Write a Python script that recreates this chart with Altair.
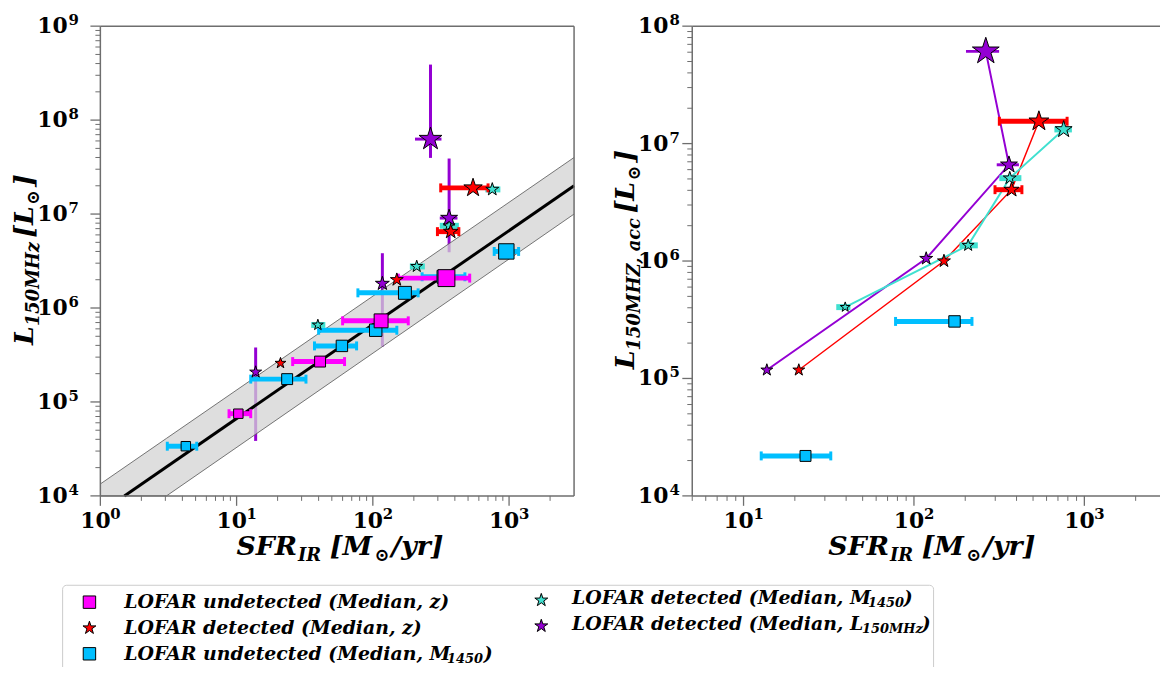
import altair as alt
import pandas as pd

# ================= DATA =================
# ---- left panel: L_150MHz vs SFR_IR ----
mag_sfr = [10.3, 41.0, 115.0, 347.0]
mag_sfr_lo = [8.8, 25.8, 60.0, 154.0]
mag_sfr_hi = [12.7, 62.0, 182.0, 514.0]
mag_L = [7.5e4, 2.69e5, 7.3e5, 2.08e6]

cyan_sfr = [4.24, 23.5, 59.3, 105.0, 172.0, 330.0, 955.0]
cyan_sfr_lo = [3.1, 12.7, 37.3, 40.0, 77.7, 230.0, 778.0]
cyan_sfr_hi = [5.1, 32.3, 76.0, 150.0, 215.0, 474.0, 1175.0]
cyan_L = [3.38e4, 1.75e5, 3.95e5, 5.8e5, 1.45e6, 2.15e6, 4.0e6]

red_sfr = [21.0, 150.0, 373.0, 544.0]
red_sfr_lo = [21.0, 150.0, 298.0, 315.0]
red_sfr_hi = [21.0, 150.0, 428.0, 701.0]
red_L = [2.59e5, 2.0e6, 6.5e6, 1.9e7]

turq_sfr = [39.5, 210.0, 363.0, 753.0]
turq_sfr_lo = [35.3, 187.0, 310.0, 670.0]
turq_sfr_hi = [44.8, 241.0, 428.0, 863.0]
turq_L = [6.6e5, 2.77e6, 7.5e6, 1.83e7]

purp_sfr = [13.8, 117.5, 363.0, 265.0]
purp_sfr_lo = [13.8, 117.5, 310.0, 204.0]
purp_sfr_hi = [13.8, 117.5, 418.0, 319.0]
purp_L = [2.08e5, 1.82e6, 9.06e6, 6.28e7]
purp_L_lo = [3.85e4, 3.9e5, 3.92e6, 3.96e7]
purp_L_hi = [3.8e5, 3.83e6, 3.9e7, 3.9e8]

rel_sfr = [1.5, 3000.0]
rel_L = [1.0e4, 2.0e7]
band_sfr = [1.0, 3.06, 3000.0]
band_hi = [1.34e4, 4.1e4, 4.0e7]
band_lo = [3.35e3, 1.0e4, 1.0e7]

# ---- right panel: L_150MHZ,acc vs SFR_IR ----
r_red_sfr = [21.1, 150.0, 374.0, 541.0]
r_red_sfr_lo = [21.1, 150.0, 299.0, 317.0]
r_red_sfr_hi = [21.1, 150.0, 430.0, 792.0]
r_red_L = [1.18e5, 1.0e6, 4.05e6, 1.55e7]

r_turq_sfr = [39.5, 208.0, 365.0, 756.0]
r_turq_sfr_lo = [35.0, 185.0, 317.0, 667.0]
r_turq_sfr_hi = [42.4, 237.0, 427.0, 845.0]
r_turq_L = [4.05e5, 1.36e6, 5.08e6, 1.32e7]

r_purp_sfr = [13.7, 118.0, 361.0, 264.0]
r_purp_sfr_lo = [13.7, 118.0, 306.0, 202.0]
r_purp_sfr_hi = [13.7, 118.0, 413.0, 316.0]
r_purp_L = [1.18e5, 1.05e6, 6.6e6, 6.1e7]

r_cyan_sfr = [23.1, 173.0]
r_cyan_sfr_lo = [12.7, 78.0]
r_cyan_sfr_hi = [32.5, 219.0]
r_cyan_L = [2.19e4, 3.06e5]

# tick values / labels
xl_major = [1, 10, 100, 1000]
xl_exp = ["0", "1", "2", "3"]
yl_major = [1e4, 1e5, 1e6, 1e7, 1e8, 1e9]
yl_exp = ["4", "5", "6", "7", "8", "9"]
xr_major = [10, 100, 1000]
xr_exp = ["1", "2", "3"]
yr_major = [1e4, 1e5, 1e6, 1e7, 1e8]
yr_exp = ["4", "5", "6", "7", "8"]
xl_minor = [m * 10 ** k for k in range(0, 4) for m in range(2, 10) if m * 10 ** k < 3000]
yl_minor = [m * 10.0 ** k for k in range(4, 9) for m in range(2, 10)]
xr_minor = [m * 10 ** k for k in range(0, 4) for m in range(2, 10) if 5 <= m * 10 ** k < 3000]
yr_minor = [m * 10.0 ** k for k in range(4, 8) for m in range(2, 10)]

# ================= STYLE =================
# marker widths in px (style, kept apart from the data)
mag_ms = [9.5, 11, 14, 17]
cyan_ms = [9.5, 11, 11.5, 12.5, 13, 13, 15.5]
red_ms = [11, 13, 14.5, 18.5]
turq_ms = [11, 12, 12, 13]
purp_ms = [12, 14, 17, 23]
r_red_ms = [12, 13, 15, 20]
r_turq_ms = [10, 12, 13, 17]
r_purp_ms = [12, 13, 17, 27]
r_cyan_ms = [11, 11.5]

MAG, CYAN, RED, TURQ, PURP = "#ff00ff", "#00bfff", "#ff0000", "#40e0d0", "#9400d3"
STAR = ("M0,-1L0.2245,-0.309L0.9511,-0.309L0.3633,0.118L0.5878,0.809L0,0.382"
        "L-0.5878,0.809L-0.3633,0.118L-0.9511,-0.309L-0.2245,-0.309Z")
SERIF = "DejaVu Serif"
FRAME = "#6e6e6e"

XL = alt.Scale(type="log", domain=[1, 3000], range=[93, 570], nice=False, clamp=True)
YL = alt.Scale(type="log", domain=[1e4, 1e9], range=[489, 16], nice=False, clamp=True)
XR = alt.Scale(type="log", domain=[5, 3000], range=[689, 1165.7], nice=False)
YR = alt.Scale(type="log", domain=[1e4, 1e8], range=[489, 16], nice=False)

one = pd.DataFrame({"a": [0]})


def X(f, s):
    return alt.X(f"{f}:Q", scale=s, axis=None)


def Y(f, s):
    return alt.Y(f"{f}:Q", scale=s, axis=None)


def series(sfr, lo, hi, L, ms, star):
    area = [(w / 0.951) ** 2 if star else w ** 2 for w in ms]
    return pd.DataFrame({"sfr": sfr, "lo": lo, "hi": hi, "L": L, "area": area,
                         "i": list(range(len(sfr)))})


def xbars(d, color, xs, ys, w=5, caps=True):
    base = alt.Chart(d).transform_filter("datum.lo < datum.hi")
    out = [base.mark_rule(color=color, strokeWidth=w).encode(
        x=X("lo", xs), x2=alt.X2("hi"), y=Y("L", ys))]
    if caps:
        out.append(base.transform_fold(["lo", "hi"], as_=["k", "v"]).mark_tick(
            orient="vertical", color=color, thickness=3, size=9, opacity=1).encode(
            x=X("v", xs), y=Y("L", ys)))
    return out


def markers(d, color, shape, xs, ys):
    return alt.Chart(d).mark_point(shape=shape, filled=True, fill=color, stroke="black",
                                   strokeWidth=1, opacity=1).encode(
        x=X("sfr", xs), y=Y("L", ys), size=alt.Size("area:Q", scale=None))


def seg(x1, x2, y1, y2, color=FRAME, w=1.5):
    enc = dict(x=alt.value(x1), y=alt.value(y1))
    if x2 != x1:
        enc["x2"] = alt.value(x2)
    if y2 != y1:
        enc["y2"] = alt.value(y2)
    return alt.Chart(one).mark_rule(color=color, strokeWidth=w).encode(**enc)


def xticks(vals, xs, size, w):
    return alt.Chart(pd.DataFrame({"v": vals})).mark_rule(color=FRAME, strokeWidth=w).encode(
        x=X("v", xs), y=alt.value(489), y2=alt.value(489 + size))


def yticks(vals, ys, x0, size, w):
    return alt.Chart(pd.DataFrame({"v": vals})).mark_rule(color=FRAME, strokeWidth=w).encode(
        y=Y("v", ys), x=alt.value(x0 - size), x2=alt.value(x0))


def xlabels(vals, exps, xs):
    b = alt.Chart(pd.DataFrame({"v": vals, "e": exps}))
    return [b.mark_text(text="10", font=SERIF, fontWeight="bold", fontSize=22, align="center",
                        baseline="middle", dx=-5).encode(x=X("v", xs), y=alt.value(514)),
            b.mark_text(font=SERIF, fontWeight="bold", fontSize=15, align="left",
                        baseline="middle", dx=10).encode(x=X("v", xs), y=alt.value(507), text="e:N")]


def ylabels(vals, exps, ys, xr):
    b = alt.Chart(pd.DataFrame({"v": vals, "e": exps}))
    return [b.mark_text(text="10", font=SERIF, fontWeight="bold", fontSize=22, align="right",
                        baseline="middle").encode(y=Y("v", ys), x=alt.value(xr)),
            b.mark_text(font=SERIF, fontWeight="bold", fontSize=15, align="left",
                        baseline="middle", dy=-6).encode(y=Y("v", ys), x=alt.value(xr + 1), text="e:N")]


def texts(rows, size, angle=0, baseline="alphabetic"):
    d = pd.DataFrame(rows, columns=["px", "py", "t"])
    return alt.Chart(d).mark_text(font=SERIF, fontSize=size, fontStyle="italic", fontWeight="bold",
                                  angle=angle, align="left", baseline=baseline).encode(
        x=alt.X("px:Q", scale=None, axis=None), y=alt.Y("py:Q", scale=None, axis=None), text="t:N")


def legend_marker(px, py, color, shape, w):
    area = (w / 0.951) ** 2 if shape == STAR else w ** 2
    return alt.Chart(one).mark_point(shape=shape, filled=True, fill=color, stroke="black",
                                     strokeWidth=1, opacity=1).encode(
        x=alt.value(px), y=alt.value(py), size=alt.value(area))


# ================= DATA FRAMES =================
d_mag = series(mag_sfr, mag_sfr_lo, mag_sfr_hi, mag_L, mag_ms, False)
d_cyan = series(cyan_sfr, cyan_sfr_lo, cyan_sfr_hi, cyan_L, cyan_ms, False)
d_red = series(red_sfr, red_sfr_lo, red_sfr_hi, red_L, red_ms, True)
d_turq = series(turq_sfr, turq_sfr_lo, turq_sfr_hi, turq_L, turq_ms, True)
d_purp = series(purp_sfr, purp_sfr_lo, purp_sfr_hi, purp_L, purp_ms, True)
d_purp["Llo"] = purp_L_lo
d_purp["Lhi"] = purp_L_hi
d_rel = pd.DataFrame({"sfr": rel_sfr, "L": rel_L})
d_band = pd.DataFrame({"sfr": band_sfr, "hi": band_hi, "lo": band_lo})

r_red = series(r_red_sfr, r_red_sfr_lo, r_red_sfr_hi, r_red_L, r_red_ms, True)
r_turq = series(r_turq_sfr, r_turq_sfr_lo, r_turq_sfr_hi, r_turq_L, r_turq_ms, True)
r_purp = series(r_purp_sfr, r_purp_sfr_lo, r_purp_sfr_hi, r_purp_L, r_purp_ms, True)
r_cyan = series(r_cyan_sfr, r_cyan_sfr_lo, r_cyan_sfr_hi, r_cyan_L, r_cyan_ms, False)

layers = []

# ---------- left panel ----------
layers.append(alt.Chart(d_purp).mark_rule(color=PURP, strokeWidth=3).encode(
    x=X("sfr", XL), y=Y("Llo", YL), y2=alt.Y2("Lhi")))
layers += xbars(d_purp, PURP, XL, YL, w=3, caps=False)
layers.append(alt.Chart(d_band).mark_area(color="#d3d3d3", opacity=0.75, orient="vertical").encode(
    x=X("sfr", XL), y=Y("hi", YL), y2=alt.Y2("lo")))
layers.append(alt.Chart(d_band).mark_line(color="#555555", strokeWidth=0.8).encode(
    x=X("sfr", XL), y=Y("hi", YL)))
layers.append(alt.Chart(d_band).mark_line(color="#555555", strokeWidth=0.8).encode(
    x=X("sfr", XL), y=Y("lo", YL)))
layers.append(alt.Chart(d_rel).mark_line(color="black", strokeWidth=3).encode(
    x=X("sfr", XL), y=Y("L", YL)))
layers += xbars(d_cyan, CYAN, XL, YL)
layers += xbars(d_mag, MAG, XL, YL)
layers += xbars(d_turq, TURQ, XL, YL, w=6, caps=False)
layers += xbars(d_red, RED, XL, YL, w=5)
layers.append(markers(d_cyan, CYAN, "square", XL, YL))
layers.append(markers(d_mag, MAG, "square", XL, YL))
layers.append(markers(d_turq, TURQ, STAR, XL, YL))
layers.append(markers(d_red, RED, STAR, XL, YL))
layers.append(markers(d_purp, PURP, STAR, XL, YL))

# ---------- right panel ----------
for d, c, w in [(r_purp, PURP, 2), (r_red, RED, 1.5), (r_turq, TURQ, 2)]:
    layers.append(alt.Chart(d).mark_line(color=c, strokeWidth=w).encode(
        x=X("sfr", XR), y=Y("L", YR), order=alt.Order("i:Q")))
layers += xbars(r_cyan, CYAN, XR, YR)
layers += xbars(r_turq, TURQ, XR, YR, w=6, caps=False)
layers += xbars(r_red, RED, XR, YR, w=5)
layers += xbars(r_purp, PURP, XR, YR, w=3, caps=False)
layers.append(markers(r_cyan, CYAN, "square", XR, YR))
layers.append(markers(r_turq, TURQ, STAR, XR, YR))
layers.append(markers(r_red, RED, STAR, XR, YR))
layers.append(markers(r_purp, PURP, STAR, XR, YR))

# ---------- frames, ticks, tick labels ----------
layers += [seg(93, 570, 16, 16), seg(93, 570, 489, 489), seg(93, 93, 16, 489), seg(570, 570, 16, 489),
           seg(689, 1160, 16, 16), seg(689, 1160, 489, 489), seg(689, 689, 16, 489)]
layers += [xticks(xl_major, XL, 10, 1.3), xticks(xl_minor, XL, 5, 1),
           yticks(yl_major, YL, 93, 10, 1.3), yticks(yl_minor, YL, 93, 5, 1),
           xticks(xr_major, XR, 10, 1.3), xticks(xr_minor, XR, 5, 1),
           yticks(yr_major, YR, 689, 10, 1.3), yticks(yr_minor, YR, 689, 5, 1)]
layers += xlabels(xl_major, xl_exp, XL) + ylabels(yl_major, yl_exp, YL, 60)
layers += xlabels(xr_major, xr_exp, XR) + ylabels(yr_major, yr_exp, YR, 665)

# ---------- axis titles ----------
layers.append(texts([(230, 549, "SFR"), (324, 549, "[M"), (386, 549, "/yr]"),
                     (826, 549, "SFR"), (920, 549, "[M"), (982, 549, "/yr]")], 27))
layers.append(texts([(292, 555, "IR"), (369, 555, "\u2299"),
                     (888, 555, "IR"), (965, 555, "\u2299")], 18))
layers.append(texts([(25, 337, "L"), (25, 229, "[L"), (25, 178, "]"),
                     (630, 361.5, "L"), (630, 204.5, "[L"), (630, 153.5, "]")], 27, angle=270))
layers.append(texts([(31, 318, "150MHz"), (31, 196, "\u2299"),
                     (636, 342.5, "150MHZ, acc"), (636, 171.5, "\u2299")], 18, angle=270))

# ---------- legend ----------
layers.append(alt.Chart(one).mark_rect(fill="white", stroke="#cccccc", strokeWidth=1, cornerRadius=4).encode(
    x=alt.value(55), x2=alt.value(932), y=alt.value(579), y2=alt.value(700)))
layers += [legend_marker(82, 596, MAG, "square", 12.5), legend_marker(82, 622, RED, STAR, 13),
           legend_marker(82, 648, CYAN, "square", 12.5), legend_marker(537, 594, TURQ, STAR, 13),
           legend_marker(537, 620, PURP, STAR, 13)]
layers.append(texts([(117, 596, "LOFAR undetected (Median, z)"),
                     (117, 622, "LOFAR detected (Median, z)"),
                     (117, 648, "LOFAR undetected (Median, M"), (479, 648, ")"),
                     (568, 592, "LOFAR detected (Median, M"), (902, 592, ")"),
                     (568, 618, "LOFAR detected (Median, L"), (920, 618, ")")], 19, baseline="middle"))
layers.append(texts([(442, 653, "1450"), (866, 597, "1450"), (860, 623, "150MHz")], 13, baseline="middle"))

chart = alt.layer(*layers).resolve_scale(x="independent", y="independent").properties(
    width=1160, height=659, autosize=alt.AutoSizeParams(type="none"), padding=0,
    background="white").configure_view(strokeWidth=0)

chart.save("out.html", embed_options={"renderer": "svg", "actions": False})
